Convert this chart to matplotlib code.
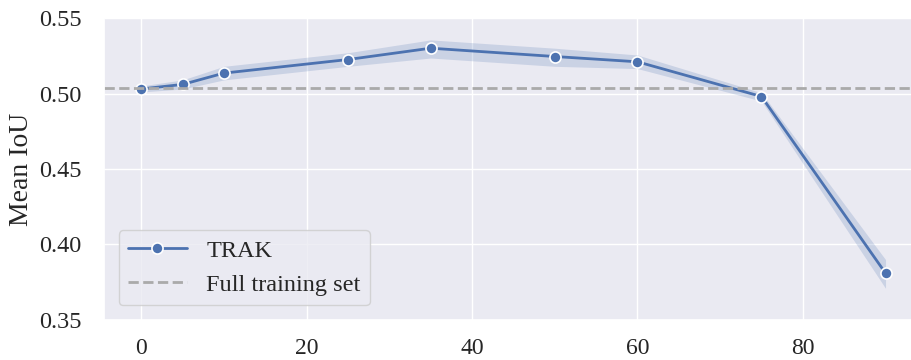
import numpy as np
import seaborn as sns
from matplotlib import pyplot as plt

# removal percentage vs mean IoU
pct = [0, 5, 10, 25, 35, 50, 60, 75, 90]
miou = [0.503, 0.506, 0.5135, 0.5225, 0.530, 0.5245, 0.521, 0.498, 0.381]
lo = [0.501, 0.503, 0.509, 0.518, 0.5235, 0.518, 0.5165, 0.495, 0.371]
hi = [0.505, 0.509, 0.518, 0.527, 0.5355, 0.530, 0.5255, 0.5005, 0.390]
full_set = 0.5035

def main():
    sns.set_theme(style='darkgrid')
    plt.rcParams['font.family'] = ['Liberation Serif', 'DejaVu Serif']

    fig = plt.figure(figsize=(9.12, 3.6), dpi=100)
    ax = fig.add_axes([104/912, 40/360, 808/912, 302/360])

    c = '#4c72b0'
    ax.fill_between(pct, lo, hi, color=c, alpha=0.2, linewidth=0)
    ax.plot(pct, miou, color=c, lw=2, marker='o', ms=8, mec='white', mew=1.2, label='TRAK')
    ax.axhline(full_set, color='#aaaaaa', ls='--', lw=2, label='Full training set')

    ax.set_xlim(-4.5, 93.2)
    ax.set_ylim(0.35, 0.55)
    ax.set_xticks([0, 20, 40, 60, 80])
    ax.set_yticks([0.35, 0.40, 0.45, 0.50, 0.55])
    ax.set_yticklabels(['%.2f' % v for v in [0.35, 0.40, 0.45, 0.50, 0.55]])
    ax.tick_params(axis='x', labelsize=17, pad=7)
    ax.tick_params(axis='y', labelsize=17.5, pad=10)
    ax.set_ylabel('Mean IoU', fontsize=20, labelpad=4)
    ax.legend(loc='lower left', fontsize=17.5, borderaxespad=0.6, handlelength=2.4)

    fig.savefig('out.png', dpi=100)

if __name__ == "__main__":
    main()
